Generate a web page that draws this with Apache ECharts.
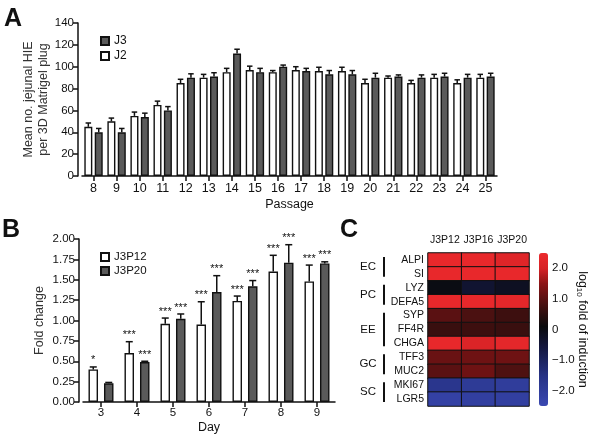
<!DOCTYPE html>
<html><head><meta charset="utf-8">
<script src="https://cdn.jsdelivr.net/npm/echarts@6/dist/echarts.min.js"></script>
<style>html,body{margin:0;padding:0;background:#fff}#c{width:600px;height:441px}</style>
</head><body><div id="c"></div>
<script>
// ---------- Panel A data ----------
const passages = ['8','9','10','11','12','13','14','15','16','17','18','19','20','21','22','23','24','25'];
const j2Values = [45,50,55,65,85,90,95,97,95,97,96,96,85,90,85,90,85,90];
const j2Err    = [3.5,3,3.5,3.5,3.5,3,3.5,3.5,1.5,3,3.5,3.5,3.5,1.5,2.5,3,3,3];
const j3Values = [40,40,54,60,90,91,112,95,100,96,93,93,90,91,90,91,90,91];
const j3Err    = [3.5,3.5,3.5,3.5,3.5,3.5,4,3.5,1.5,2.5,3.5,3.5,4,1.5,2.5,3,3,3];

// ---------- Panel B data ----------
const days = ['3','4','5','6','7','8','9'];
const p12Values = [0.40,0.60,0.96,0.95,1.24,1.60,1.48];
const p12Err    = [0.03,0.14,0.07,0.28,0.06,0.20,0.20];
const p12Stars  = ['*','***','***','***','***','***','***'];
const p20Values = [0.23,0.49,1.02,1.35,1.42,1.71,1.70];
const p20Err    = [0.01,0.01,0.06,0.20,0.07,0.22,0.02];
const p20Stars  = ['','***','***','***','***','***','***'];

// ---------- Panel C data ----------
const samples = ['J3P12','J3P16','J3P20'];
const genes = ['ALPI','SI','LYZ','DEFA5','SYP','FF4R','CHGA','TFF3','MUC2','MKI67','LGR5'];
const geneValues = [
  [2.4,2.4,2.2],
  [2.4,2.4,2.4],
  [0.0,-0.4,-0.2],
  [2.4,2.4,2.3],
  [1.0,0.85,0.7],
  [0.65,0.7,0.65],
  [2.4,2.1,2.3],
  [1.15,1.2,1.2],
  [1.0,1.2,0.88],
  [-1.7,-1.9,-2.0],
  [-2.2,-2.1,-2.1]
];
const groups = [['EC',0,1],['PC',2,3],['EE',4,6],['GC',7,8],['SC',9,10]];
const colorbarTicks = [-2,-1,0,1,2];

// ---------- styling helpers ----------
const FONT = 'Liberation Sans, Arial, sans-serif';
const DARK = '#5a5a5a';
const LINE = '#111';

// colormap stops (value -> rgb), for the heatmap colour scale
const cmapStops = [
  [-2.5,[58,72,178]],[-1.5,[38,50,132]],[-0.6,[20,24,64]],[0.1,[10,10,12]],
  [0.8,[70,16,16]],[1.5,[140,20,22]],[2.0,[215,34,38]],[2.5,[236,42,44]]
];
function cmap(v){
  for(let i=0;i<cmapStops.length-1;i++){
    const [a,ca]=cmapStops[i],[b,cb]=cmapStops[i+1];
    if(v>=a&&v<=b){const t=(v-a)/(b-a);
      return 'rgb('+ca.map((c,k)=>Math.round(c+(cb[k]-c)*t)).join(',')+')';}
  }
  return 'rgb(236,42,44)';
}
const cmapColors=[];for(let i=0;i<=50;i++)cmapColors.push(cmap(-2.5+i*0.1));

const heatData=[];
geneValues.forEach((row,r)=>row.forEach((v,c)=>heatData.push([c,r,v])));

function errSeries(name, xi, yi, vals, errs, sign, halfOffset, cap, stars){
  return {
    type:'custom', name:name, xAxisIndex:xi, yAxisIndex:yi, z:5, silent:true,
    data: vals.map((v,i)=>[i,v,errs[i],stars?stars[i]:'']),
    renderItem:function(params,api){
      const i=api.value(0),v=api.value(1),e=api.value(2);
      const base=api.coord([i,v]);const top=api.coord([i,v+e]);
      const x=base[0]+sign*halfOffset;
      const children=[
        {type:'line',shape:{x1:x,y1:base[1],x2:x,y2:top[1]},style:{stroke:LINE,lineWidth:1.5}},
        {type:'line',shape:{x1:x-cap/2,y1:top[1],x2:x+cap/2,y2:top[1]},style:{stroke:LINE,lineWidth:1.5}}
      ];
      const s=stars?stars[i]:'';
      if(s){children.push({type:'text',style:{x:x,y:top[1]-1,text:s,align:'center',verticalAlign:'bottom',
        font:'11px '+FONT,fill:'#111'}});}
      return {type:'group',children:children};
    }
  };
}

const axisLineStyle={lineStyle:{color:LINE,width:1.5}};
const tickStyle={show:true,length:5,lineStyle:{color:LINE,width:1.5}};

const option={
  animation:false,
  textStyle:{fontFamily:FONT,color:'#111'},
  grid:[
    {left:82,top:23,width:415,height:153},
    {left:83,top:239,width:252,height:163},
    {left:428,top:253,width:101,height:153},
    {left:539,top:253,width:9,height:153}
  ],
  legend:[
    {data:['J3','J2'],orient:'vertical',left:95,top:30,itemWidth:8,itemHeight:8,itemGap:3,
     textStyle:{fontSize:12,fontFamily:FONT,color:'#111'},icon:'rect'},
    {data:['J3P12','J3P20'],orient:'vertical',left:95,top:246,itemWidth:8,itemHeight:8,itemGap:2,
     textStyle:{fontSize:11.5,fontFamily:FONT,color:'#111'},icon:'rect'}
  ],
  xAxis:[
    {gridIndex:0,type:'category',data:passages,name:'Passage',nameLocation:'middle',nameGap:22,nameMoveOverlap:false,
     nameTextStyle:{fontSize:12.5,color:'#111'},axisLine:axisLineStyle,axisTick:Object.assign({alignWithLabel:true},tickStyle),
     axisLabel:{fontSize:12.5,color:'#111',margin:6,interval:0}},
    {gridIndex:1,type:'category',data:days,name:'Day',nameLocation:'middle',nameGap:19,nameMoveOverlap:false,
     nameTextStyle:{fontSize:12.5,color:'#111'},axisLine:axisLineStyle,axisTick:Object.assign({alignWithLabel:true},tickStyle),
     axisLabel:{fontSize:11.5,color:'#111',margin:5,interval:0}},
    {gridIndex:2,type:'category',data:samples,position:'top',axisLine:{show:false},axisTick:{show:false},
     axisLabel:{fontSize:10.5,color:'#111',margin:7,interval:0}},
    {gridIndex:3,type:'value',show:false}
  ],
  yAxis:[
    {gridIndex:0,type:'value',min:0,max:140,interval:20,offset:4,splitLine:{show:false},
     name:'Mean no. jejunal HIE\nper 3D Matrigel plug',nameLocation:'middle',nameRotate:90,nameGap:27,nameMoveOverlap:false,
     nameTextStyle:{fontSize:12.5,lineHeight:15,color:'#333'},
     axisLine:Object.assign({show:true},axisLineStyle),axisTick:tickStyle,
     axisLabel:{fontSize:11.5,color:'#111',margin:4}},
    {gridIndex:1,type:'value',min:0,max:2,interval:0.25,offset:4,splitLine:{show:false},
     name:'Fold change',nameLocation:'middle',nameRotate:90,nameGap:33,nameMoveOverlap:false,
     nameTextStyle:{fontSize:12.5,color:'#333'},
     axisLine:Object.assign({show:true},axisLineStyle),axisTick:tickStyle,
     axisLabel:{fontSize:11.5,color:'#111',margin:4,formatter:v=>v.toFixed(2)}},
    {gridIndex:2,type:'category',data:genes,inverse:true,axisLine:{show:false},axisTick:{show:false},
     axisLabel:{fontSize:10.5,color:'#111',margin:4,interval:0}},
    {gridIndex:3,type:'value',position:'right',min:-2.5,max:2.5,splitLine:{show:false},
     axisLine:{show:false},axisTick:{show:false},
     name:'{a|log}{s|10}{a| fold of induction}',nameLocation:'middle',nameRotate:-90,nameGap:27,nameMoveOverlap:false,
     nameTextStyle:{rich:{a:{fontSize:12.5,color:'#111',fontFamily:FONT},s:{fontSize:8,color:'#111',verticalAlign:'bottom',fontFamily:FONT,padding:[6,0,0,0]}}},
     axisLabel:{fontSize:11.5,color:'#111',margin:4,customValues:colorbarTicks,
       formatter:v=>v===0?'0':(v<0?'\u2212'+Math.abs(v).toFixed(1):v.toFixed(1))}}
  ],
  visualMap:{type:'continuous',min:-2.5,max:2.5,seriesIndex:8,calculable:false,show:true,
    left:539,top:253,itemWidth:9,itemHeight:153,padding:0,text:null,showLabel:false,
    inRange:{color:cmapColors},orient:'vertical'},
  series:[
    {type:'bar',name:'J2',xAxisIndex:0,yAxisIndex:0,data:j2Values,barWidth:8,barGap:'30%',
     itemStyle:{color:'#fff',borderColor:LINE,borderWidth:1.4}},
    {type:'bar',name:'J3',xAxisIndex:0,yAxisIndex:0,data:j3Values,barWidth:8,barGap:'30%',
     itemStyle:{color:DARK,borderColor:LINE,borderWidth:1.4}},
    errSeries('errJ2',0,0,j2Values,j2Err,-1,5.2,5.5,null),
    errSeries('errJ3',0,0,j3Values,j3Err,1,5.2,5.5,null),
    {type:'bar',name:'J3P12',xAxisIndex:1,yAxisIndex:1,data:p12Values,barWidth:9.5,barGap:'63%',
     itemStyle:{color:'#fff',borderColor:LINE,borderWidth:1.4}},
    {type:'bar',name:'J3P20',xAxisIndex:1,yAxisIndex:1,data:p20Values,barWidth:9.5,barGap:'63%',
     itemStyle:{color:DARK,borderColor:LINE,borderWidth:1.4}},
    errSeries('errP12',1,1,p12Values,p12Err,-1,7.75,7,p12Stars),
    errSeries('errP20',1,1,p20Values,p20Err,1,7.75,7,p20Stars),
    {type:'heatmap',name:'heat',xAxisIndex:2,yAxisIndex:2,data:heatData,
     itemStyle:{borderColor:'#111',borderWidth:1}},
    {type:'custom',name:'groups',xAxisIndex:2,yAxisIndex:2,silent:true,clip:false,
     data:groups.map(g=>[0,g[1],g[2],g[0]]),
     renderItem:function(params,api){
       const s=api.value(1),e=api.value(2);const g=groups[params.dataIndex];
       const h=api.size([0,1])[1];
       const y1=api.coord([0,s])[1]-h/2+4, y2=api.coord([0,e])[1]+h/2-4;
       const left=params.coordSys.x;
       return {type:'group',children:[
         {type:'line',shape:{x1:left-44,y1:y1,x2:left-44,y2:y2},style:{stroke:'#111',lineWidth:2}},
         {type:'text',style:{x:left-60,y:(y1+y2)/2,text:g[0],align:'center',verticalAlign:'middle',font:'11.5px '+FONT,fill:'#111'}}
       ]};
     }}
  ],
  graphic:[
    {type:'text',left:4,top:7,style:{text:'A',font:'bold 25px '+FONT,fill:'#111'}},
    {type:'text',left:2,top:218,style:{text:'B',font:'bold 25px '+FONT,fill:'#111'}},
    {type:'text',left:340,top:218,style:{text:'C',font:'bold 25px '+FONT,fill:'#111'}}
  ]
};
const chart=echarts.init(document.getElementById('c'),null,{renderer:'canvas'});
chart.setOption(option);
</script></body></html>
